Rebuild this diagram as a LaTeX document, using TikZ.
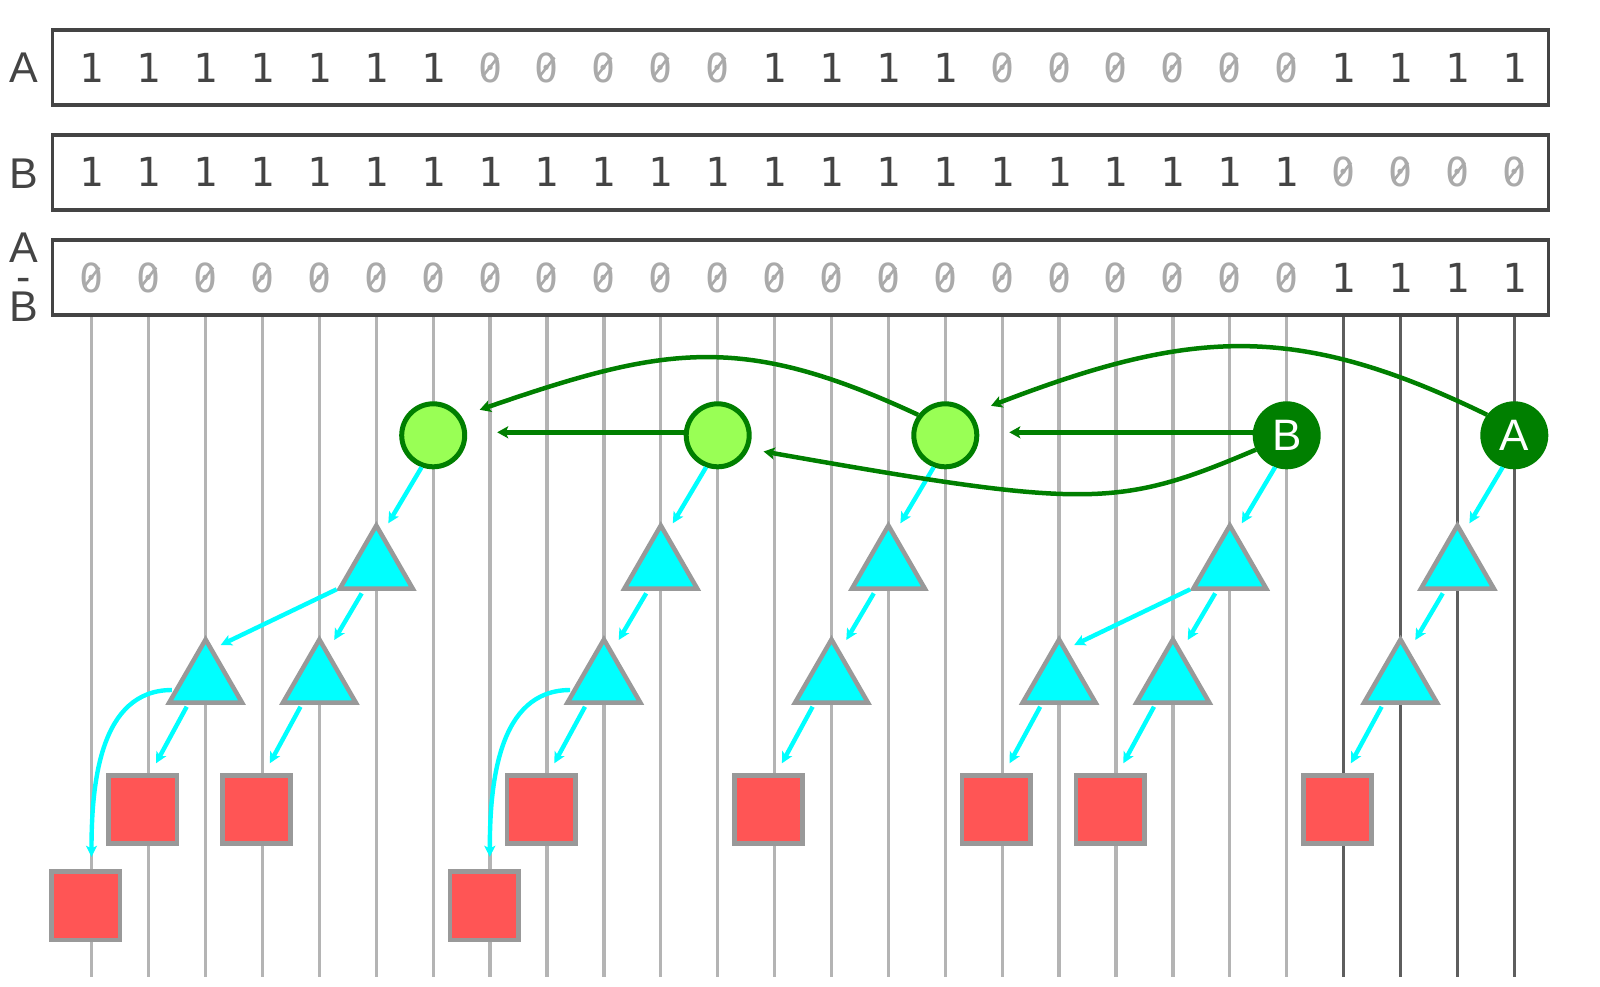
\documentclass[tikz,border=0pt]{standalone}
\usepackage{fontspec}
\setmainfont{Liberation Sans}
\newfontfamily\digitfont{DejaVu Sans Mono}
\usetikzlibrary{arrows.meta,shapes.geometric,calc}
\definecolor{boxgray}{HTML}{444444}
\definecolor{zerogray}{HTML}{AAAAAA}
\definecolor{linelight}{HTML}{B4B4B4}
\definecolor{linedark}{HTML}{5E5E5E}
\definecolor{gdark}{HTML}{007F00}
\definecolor{glight}{HTML}{99FF55}
\definecolor{cyanc}{HTML}{00FFFF}
\definecolor{shapegray}{HTML}{999999}
\definecolor{sqred}{HTML}{FF5555}
\begin{document}
\begin{tikzpicture}[x=1pt,y=1pt,
  rowbox/.style={draw=boxgray, line width=3.3pt, minimum width=1495.8pt, minimum height=75pt, inner sep=0pt},
  dig1/.style={font=\digitfont\fontsize{40}{40}\selectfont, text=boxgray, inner sep=0pt},
  dig0/.style={dig1, text=zerogray},
  zslash/.style={draw=zerogray, line width=2.6pt},
  lbl/.style={font=\fontsize{43}{43}\selectfont, text=boxgray, inner sep=0pt, anchor=base},
  lblstack/.style={font=\fontsize{43}{29.2}\selectfont, text=boxgray, inner sep=0pt, align=center, anchor=center, execute at begin node={\lineskiplimit=-100pt\relax}},
  colline/.style={line width=3.3pt, draw=linelight},
  collinedark/.style={line width=3.3pt, draw=linedark},
  lnode/.style={circle, draw=gdark, fill=glight, line width=5pt, minimum size=63pt, inner sep=0pt},
  dnode/.style={circle, draw=gdark, fill=gdark, line width=5pt, minimum size=63pt, inner sep=0pt, text=white, font=\fontsize{44}{44}\selectfont},
  tri/.style={regular polygon, regular polygon sides=3, draw=shapegray, fill=cyanc, line width=4.5pt, minimum size=84pt, inner sep=0pt},
  sqbox/.style={rectangle, draw=shapegray, fill=sqred, line width=4.7pt, minimum size=68.3pt, inner sep=0pt},
  garrow/.style={draw=gdark, line width=4.5pt, -{Stealth[length=11pt,width=12pt,inset=2.5pt]}},
  carrow/.style={draw=cyanc, line width=4.4pt, -{Stealth[length=11pt,width=11pt,inset=2.5pt]}},
]
\useasboundingbox (0,0) rectangle (1600,-986);
% column lines
\foreach \i in {0,...,25}{
  \coordinate (lt\i) at ({91.8+56.9*\i},-314);
  \coordinate (lb\i) at ({91.8+56.9*\i},-977);
}
\foreach \i in {0,...,21} \draw[colline] (lt\i) -- (lb\i);
\foreach \i in {22,...,25} \draw[collinedark] (lt\i) -- (lb\i);
% boxes
\node[rowbox] (boxA) at (800.5,-67.5) {};
\node[rowbox] (boxB) at (800.5,-172.4) {};
\node[rowbox] (boxC) at (800.5,-277.5) {};
% digits
\foreach \d [count=\i from 0] in {1,1,1,1,1,1,1,0,0,0,0,0,1,1,1,1,0,0,0,0,0,0,1,1,1,1}{
  \node[dig\d] (ra\i) at ({91.8+56.9*\i},-67.5) {\d};
  \ifnum\d=0 \draw[zslash] ([shift={(-7.5,-9)}]ra\i.center) -- ([shift={(7.5,10)}]ra\i.center);\fi
}
\foreach \d [count=\i from 0] in {1,1,1,1,1,1,1,1,1,1,1,1,1,1,1,1,1,1,1,1,1,1,0,0,0,0}{
  \node[dig\d] (rb\i) at ({91.8+56.9*\i},-172.4) {\d};
  \ifnum\d=0 \draw[zslash] ([shift={(-7.5,-9)}]rb\i.center) -- ([shift={(7.5,10)}]rb\i.center);\fi
}
\foreach \d [count=\i from 0] in {0,0,0,0,0,0,0,0,0,0,0,0,0,0,0,0,0,0,0,0,0,0,1,1,1,1}{
  \node[dig\d] (rc\i) at ({91.8+56.9*\i},-277.5) {\d};
  \ifnum\d=0 \draw[zslash] ([shift={(-7.5,-9)}]rc\i.center) -- ([shift={(7.5,10)}]rc\i.center);\fi
}
% labels
\node[lbl] (labA) at (24,-82.7) {A};
\node[lbl] (labB) at (24,-188.3) {B};
\node[lblstack] (labC) at (24,-277) {A\\-\\B};
% circles
\node[lnode] (n6) at ({91.8+56.9*6},-435.3) {};
\node[lnode] (n11) at ({91.8+56.9*11},-435.3) {};
\node[lnode] (n15) at ({91.8+56.9*15},-435.3) {};
\node[dnode] (n21) at ({91.8+56.9*21},-435.3) {B};
\node[dnode] (n25) at ({91.8+56.9*25},-435.3) {A};
% triangles level 1
\foreach \i in {5,10,14,20,24}
  \node[tri] (t\i) at ({91.8+56.9*\i},-567.5) {};
% triangles level 2
\foreach \i in {2,4,9,13,17,19,23}
  \node[tri] (t\i) at ({91.8+56.9*\i},-681.5) {};
% squares
\foreach \i in {1,3,8,12,16,18,22}
  \node[sqbox] (s\i) at ({91.8+56.9*\i-6},-809.5) {};
\foreach \i in {0,7}
  \node[sqbox] (s\i) at ({91.8+56.9*\i-6},-905.8) {};
% cyan arrows: circle -> triangle
\foreach \a/\b in {6/5,11/10,15/14,21/20,25/24}
  \draw[carrow] (n\a.250) -- ([shift={(12,44.2)}]t\b.center);
% triangle -> triangle (adjacent)
\foreach \a/\b in {5/4,10/9,14/13,20/19,24/23}
  \draw[carrow] ([shift={(-14.6,-25.8)}]t\a.center) -- ([shift={(14.8,41.5)}]t\b.center);
% triangle -> triangle (far)
\foreach \a/\b in {5/2,20/17}
  \draw[carrow] ([shift={(-39.6,-21.8)}]t\a.center) -- ([shift={(15.1,36.5)}]t\b.center);
% triangle -> square
\foreach \a/\b in {2/1,4/3,9/8,13/12,17/16,19/18,23/22}
  \draw[carrow] ([shift={(-18.9,-25.2)}]t\a.center) -- ([shift={(13.3,46.2)}]s\b.center);
% curved triangle -> square
\foreach \a/\b in {2/0,9/7}
  \draw[carrow] ([shift={(-33.7,-8.5)}]t\a.center) to[out=180,in=90] ([shift={(5.7,49)}]s\b.center);
% green arrows
\draw[garrow, shorten >=30pt] ([yshift=3pt]n11.west) -- ([yshift=3pt]n6.east);
\draw[garrow, shorten >=30pt] ([yshift=3pt]n21.west) -- ([yshift=3pt]n15.east);
\draw[garrow] (n15.143) to[out=155,in=19,looseness=1.14] ([shift={(46.5,25.5)}]n6.center);
\draw[garrow] (n25.143) to[out=154,in=21,looseness=1.1] ([shift={(45.7,29.5)}]n15.center);
\draw[garrow] (n21.205) .. controls +(203:150) and +(-10:330) .. ([shift={(45.9,-16.2)}]n11.center);
\end{tikzpicture}
\end{document}
